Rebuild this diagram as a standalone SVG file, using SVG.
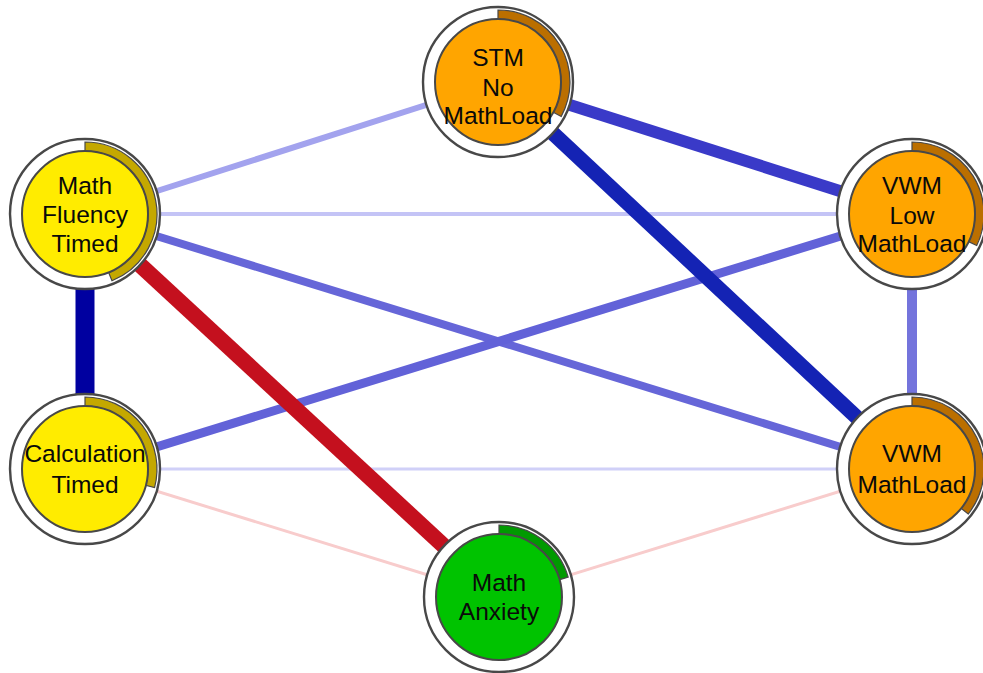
<svg xmlns="http://www.w3.org/2000/svg" width="983" height="673" viewBox="0 0 983 673">
<style>
.ring{fill:#fff;stroke:#484848;stroke-width:2.4}
.core{stroke:#484848;stroke-width:2}
.band{stroke:#484848;stroke-width:1.2}
.or{fill:#FFA500}.orb{fill:#BB6F00}
.ye{fill:#FFEC00}.yeb{fill:#C4A800}
.gr{fill:#00C300}.grb{fill:#009A00}
text{font-family:"Liberation Sans",Arial,sans-serif;font-size:24.5px;fill:#0a0a0a;text-anchor:middle}
line{stroke-linecap:butt}
</style>
<rect width="983" height="673" fill="#fff"/>
<g id="connectors">
<line x1="498" y1="82" x2="85" y2="214" stroke="#a3a3ee" stroke-width="6"/>
<line x1="85" y1="214" x2="912" y2="214" stroke="#c4c4f6" stroke-width="4"/>
<line x1="85" y1="469" x2="912" y2="469" stroke="#d0d0f8" stroke-width="3"/>
<line x1="85" y1="469" x2="499" y2="597" stroke="#f8cccc" stroke-width="3"/>
<line x1="499" y1="597" x2="912" y2="469" stroke="#f8cccc" stroke-width="3"/>
<line x1="912" y1="214" x2="912" y2="469" stroke="#7474dc" stroke-width="10"/>
<line x1="85" y1="214" x2="912" y2="469" stroke="#6666d8" stroke-width="8"/>
<line x1="85" y1="469" x2="912" y2="214" stroke="#6262d8" stroke-width="9"/>
<line x1="498" y1="82" x2="912" y2="214" stroke="#3a3ac8" stroke-width="12"/>
<line x1="498" y1="82" x2="912" y2="469" stroke="#1423b4" stroke-width="15"/>
<line x1="85" y1="214" x2="85" y2="469" stroke="#0000a0" stroke-width="19"/>
<line x1="85" y1="214" x2="499" y2="597" stroke="#c4101e" stroke-width="16"/>
</g>
<g id="stm" transform="translate(498,82)">
<circle class="ring" r="75"/>
<path class="band orb" d="M0 -72A72 72 0 0 1 63.22 34.47L55.31 30.16A63 63 0 0 0 0 -63Z"/>
<circle class="core or" r="63"/>
<text y="-16">STM</text><text y="14">No</text><text y="42">MathLoad</text>
</g>
<g id="mathfluency" transform="translate(85,214)">
<circle class="ring" r="75"/>
<path class="band yeb" d="M0 -72A72 72 0 0 1 26.97 66.76L23.60 58.41A63 63 0 0 0 0 -63Z"/>
<circle class="core ye" r="63"/>
<text y="-20">Math</text><text y="9">Fluency</text><text y="38">Timed</text>
</g>
<g id="vwmlow" transform="translate(912,214)">
<circle class="ring" r="75"/>
<path class="band orb" d="M0 -72A72 72 0 0 1 64.71 31.56L56.62 27.62A63 63 0 0 0 0 -63Z"/>
<circle class="core or" r="63"/>
<text y="-20">VWM</text><text y="10">Low</text><text y="38">MathLoad</text>
</g>
<g id="calculation" transform="translate(85,469)">
<circle class="ring" r="75"/>
<path class="band yeb" d="M0 -72A72 72 0 0 1 69.55 18.63L60.85 16.30A63 63 0 0 0 0 -63Z"/>
<circle class="core ye" r="63"/>
<text y="-7">Calculation</text><text y="24">Timed</text>
</g>
<g id="vwmmathload" transform="translate(912,469)">
<circle class="ring" r="75"/>
<path class="band orb" d="M0 -72A72 72 0 0 1 56.19 45.01L49.17 39.39A63 63 0 0 0 0 -63Z"/>
<circle class="core or" r="63"/>
<text y="-7">VWM</text><text y="24">MathLoad</text>
</g>
<g id="mathanxiety" transform="translate(499,597)">
<circle class="ring" r="75"/>
<path class="band grb" d="M0 -72A72 72 0 0 1 69.21 -19.85L60.56 -17.36A63 63 0 0 0 0 -63Z"/>
<circle class="core gr" r="63"/>
<text y="-6">Math</text><text y="23">Anxiety</text>
</g>
</svg>
